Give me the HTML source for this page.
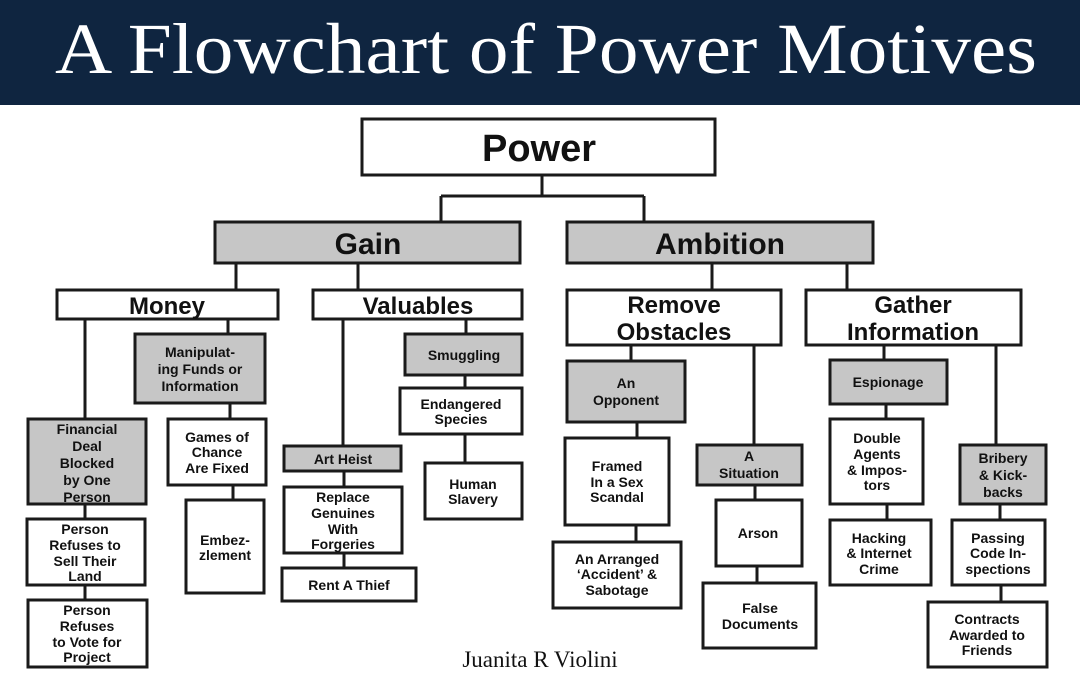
<!DOCTYPE html>
<html><head><meta charset="utf-8"><style>
html,body{margin:0;padding:0;background:#fff;}
svg{display:block;}
.b{fill:#fff;stroke:#1a1a1a;stroke-width:3;}
.g{fill:#c6c6c6;stroke:#1a1a1a;stroke-width:3;}
.l{stroke:#1a1a1a;stroke-width:3;fill:none;}
text{font-family:"Liberation Sans",sans-serif;font-weight:bold;fill:#111;text-anchor:middle;}
.s{font-size:14px;}
</style></head><body>
<svg width="1080" height="681" viewBox="0 0 1080 681" xmlns="http://www.w3.org/2000/svg">
<rect x="0" y="0" width="1080" height="105" fill="#0f2540"/>
<text x="546" y="73" style="font-family:'Liberation Serif',serif;font-weight:normal;fill:#fff;font-size:72px" textLength="982" lengthAdjust="spacingAndGlyphs">A Flowchart of Power Motives</text>

<!-- connectors -->
<path class="l" d="M542 175V196M441 196H644M441 196V222M644 196V222"/>
<path class="l" d="M236 263V290M358 263V290M712 263V290M847 263V290"/>
<path class="l" d="M85 319V419M85 504V519M85 585V600M228 319V334M230 403V419M233 485V500"/>
<path class="l" d="M343 319V446M344 471V487M344 553V568M466 319V334M465 375V388M465 434V463"/>
<path class="l" d="M631 345V361M637 422V438M636 525V542M754 345V445M755 485V500M757 566V583"/>
<path class="l" d="M884 345V360M886 404V419M887 504V520M996 345V445M1000 504V520M1001 585V602"/>

<!-- boxes -->
<rect class="b" x="362" y="119" width="353" height="56"/>
<text x="539" y="161" style="font-size:38px">Power</text>
<rect class="g" x="215" y="222" width="305" height="41"/>
<text x="368" y="254" style="font-size:30px">Gain</text>
<rect class="g" x="567" y="222" width="306" height="41"/>
<text x="720" y="254" style="font-size:30px">Ambition</text>

<rect class="b" x="57" y="290" width="221" height="29"/>
<text x="167" y="314" style="font-size:24px">Money</text>
<rect class="b" x="313" y="290" width="209" height="29"/>
<text x="418" y="314" style="font-size:24px">Valuables</text>
<rect class="b" x="567" y="290" width="214" height="55"/>
<text x="674" y="313" style="font-size:24px">Remove</text>
<text x="674" y="340" style="font-size:24px">Obstacles</text>
<rect class="b" x="806" y="290" width="215" height="55"/>
<text x="913" y="313" style="font-size:24px">Gather</text>
<text x="913" y="340" style="font-size:24px">Information</text>

<rect class="g" x="28" y="419" width="118" height="85"/>
<text class="s" x="87" y="434">Financial</text><text class="s" x="87" y="451">Deal</text><text class="s" x="87" y="468">Blocked</text><text class="s" x="87" y="485">by One</text><text class="s" x="87" y="502">Person</text>
<rect class="b" x="27" y="519" width="118" height="66"/>
<text class="s" x="85" y="534">Person</text><text class="s" x="85" y="550">Refuses to</text><text class="s" x="85" y="566">Sell Their</text><text class="s" x="85" y="581">Land</text>
<rect class="b" x="28" y="600" width="119" height="67"/>
<text class="s" x="87" y="615">Person</text><text class="s" x="87" y="631">Refuses</text><text class="s" x="87" y="647">to Vote for</text><text class="s" x="87" y="662">Project</text>

<rect class="g" x="135" y="334" width="130" height="69"/>
<text class="s" x="200" y="357">Manipulat-</text><text class="s" x="200" y="374">ing Funds or</text><text class="s" x="200" y="391">Information</text>
<rect class="b" x="168" y="419" width="98" height="66"/>
<text class="s" x="217" y="442">Games of</text><text class="s" x="217" y="457">Chance</text><text class="s" x="217" y="473">Are Fixed</text>
<rect class="b" x="186" y="500" width="78" height="93"/>
<text class="s" x="225" y="545">Embez-</text><text class="s" x="225" y="560">zlement</text>

<rect class="g" x="284" y="446" width="117" height="25"/>
<text class="s" x="343" y="464">Art Heist</text>
<rect class="b" x="284" y="487" width="118" height="66"/>
<text class="s" x="343" y="502">Replace</text><text class="s" x="343" y="518">Genuines</text><text class="s" x="343" y="534">With</text><text class="s" x="343" y="549">Forgeries</text>
<rect class="b" x="282" y="568" width="134" height="33"/>
<text class="s" x="349" y="590">Rent A Thief</text>

<rect class="g" x="405" y="334" width="117" height="41"/>
<text class="s" x="464" y="360">Smuggling</text>
<rect class="b" x="400" y="388" width="122" height="46"/>
<text class="s" x="461" y="409">Endangered</text><text class="s" x="461" y="424">Species</text>
<rect class="b" x="425" y="463" width="97" height="56"/>
<text class="s" x="473" y="489">Human</text><text class="s" x="473" y="504">Slavery</text>

<rect class="g" x="567" y="361" width="118" height="61"/>
<text class="s" x="626" y="388">An</text><text class="s" x="626" y="405">Opponent</text>
<rect class="b" x="565" y="438" width="104" height="87"/>
<text class="s" x="617" y="471">Framed</text><text class="s" x="617" y="487">In a Sex</text><text class="s" x="617" y="502">Scandal</text>
<rect class="b" x="553" y="542" width="128" height="66"/>
<text class="s" x="617" y="564">An Arranged</text><text class="s" x="617" y="579">‘Accident’ &amp;</text><text class="s" x="617" y="595">Sabotage</text>

<rect class="g" x="697" y="445" width="105" height="40"/>
<text class="s" x="749" y="461">A</text><text class="s" x="749" y="478">Situation</text>
<rect class="b" x="716" y="500" width="86" height="66"/>
<text class="s" x="758" y="538">Arson</text>
<rect class="b" x="703" y="583" width="113" height="65"/>
<text class="s" x="760" y="613">False</text><text class="s" x="760" y="629">Documents</text>

<rect class="g" x="830" y="360" width="117" height="44"/>
<text class="s" x="888" y="387">Espionage</text>
<rect class="b" x="830" y="419" width="93" height="85"/>
<text class="s" x="877" y="443">Double</text><text class="s" x="877" y="459">Agents</text><text class="s" x="877" y="475">&amp; Impos-</text><text class="s" x="877" y="490">tors</text>
<rect class="b" x="830" y="520" width="101" height="65"/>
<text class="s" x="879" y="543">Hacking</text><text class="s" x="879" y="558">&amp; Internet</text><text class="s" x="879" y="574">Crime</text>

<rect class="g" x="960" y="445" width="86" height="59"/>
<text class="s" x="1003" y="463">Bribery</text><text class="s" x="1003" y="480">&amp; Kick-</text><text class="s" x="1003" y="497">backs</text>
<rect class="b" x="952" y="520" width="93" height="65"/>
<text class="s" x="998" y="543">Passing</text><text class="s" x="998" y="558">Code In-</text><text class="s" x="998" y="574">spections</text>
<rect class="b" x="928" y="602" width="119" height="65"/>
<text class="s" x="987" y="624">Contracts</text><text class="s" x="987" y="640">Awarded to</text><text class="s" x="987" y="655">Friends</text>

<text x="540" y="667" style="font-family:'Liberation Serif',serif;font-weight:normal;font-size:23px;fill:#111">Juanita R Violini</text>
</svg>
</body></html>
